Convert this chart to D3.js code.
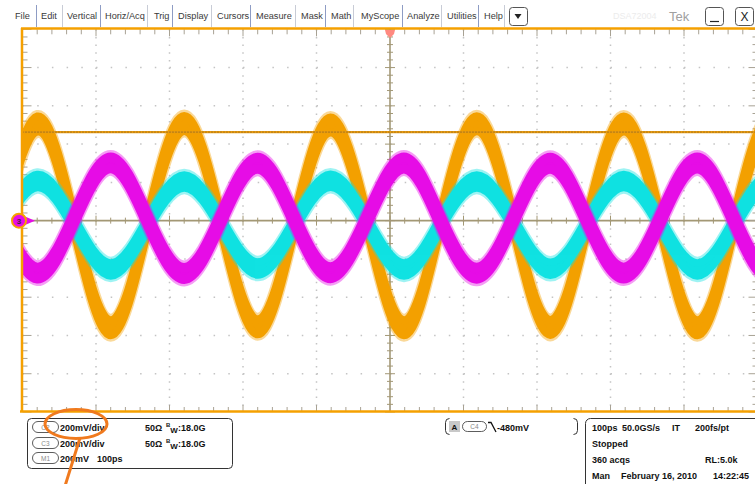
<!DOCTYPE html>
<html><head><meta charset="utf-8">
<script src="https://cdn.jsdelivr.net/npm/d3@7"></script>
<style>
html,body{margin:0;padding:0;background:#fff;}
svg{display:block;font-family:"Liberation Sans",Arial,Helvetica,sans-serif;}
</style></head><body>
<svg id="c" width="755" height="484"></svg>
<script>
// ---------- data ----------
const menuItems = ["File","Edit","Vertical","Horiz/Acq","Trig","Display","Cursors","Measure","Mask","Math","MyScope","Analyze","Utilities","Help"];
// sample instants (ps) at peaks / crossings / troughs
const timePs = [-580,-530,-480,-430,-380,-330,-280,-230,-180,-130,-81,-31,19,68,118,168,218,268,318,368,418,468,518,568,618];
// M1 (orange), mV
const m1Mv  = [-555,-15,505,-10,-560,-15,508,-10,-555,-15,500,-10,-560,-15,506,-10,-558,-15,505,-10,-560,-15,505,-10,-555];
// C2 (cyan), mV
const c2Mv  = [-250,-20,207,-15,-255,-20,205,-15,-250,-20,208,-15,-255,-20,204,-15,-252,-20,207,-15,-255,-20,206,-15,-250];
// C3 (magenta), mV
const c3Mv  = [300,5,-274,10,302,5,-276,10,300,5,-272,10,301,5,-275,10,300,5,-274,10,301,5,-273,10,300];
const refLevelMv = 463;               // orange dotted level line
const timeDivTicks = [-400,-300,-200,-100,100,200,300,400];
const voltDivTicks = [-800,-600,-400,-200,200,400,600,800];
const infoRows = [
  {pill:"C2", a:"200mV/div", b:"50Ω", bw:":18.0G"},
  {pill:"C3", a:"200mV/div", b:"50Ω", bw:":18.0G"},
  {pill:"M1", a:"200mV", c:"100ps"}
];
const trigText = ["A","C4","-480mV"];
const acqLines = [
  [["100ps",592],["50.0GS/s",622],["IT",672],["200fs/pt",695]],
  [["Stopped",592]],
  [["360 acqs",592],["RL:5.0k",705]],
  [["Man",592],["February 16, 2010",621],["14:22:45",713]]
];

// ---------- setup ----------
const svg = d3.select("#c");
svg.append("rect").attr("width",755).attr("height",484).attr("fill","#fff");
const x = d3.scaleLinear().domain([-500,500]).range([22.5,757.5]);
const y = d3.scaleLinear().domain([-1000,1000]).range([412,29.3]);
const gridCol = "#c4c4c4", axisCol = "#a39877", tickCol = "#a8a294";
const ORANGE = "#f3a000", CYAN = "#10e2e2", MAGENTA = "#e60ce6";

// ---------- menu bar ----------
const menuX = [15,41,67,105,154,178,217,256,301,331,361,407,447,484];
const sepX = [36,62,100,147,172,211,250,295,325,353,402,441,478,504];
const mg = svg.append("g");
mg.selectAll("text.m").data(menuItems).join("text")
  .attr("x",(d,i)=>menuX[i]).attr("y",19).attr("font-size",9.2).attr("fill","#3a3a3a").text(d=>d);
mg.selectAll("line.s").data(sepX).join("line")
  .attr("x1",d=>d+0.5).attr("x2",d=>d+0.5).attr("y1",5).attr("y2",27)
  .attr("stroke",(d,i)=>i%2? "#c8ccd6":"#8e9cc4").attr("stroke-width",1);
function btn(x0){
  mg.append("rect").attr("x",x0+0.5).attr("y",7.5).attr("width",18).attr("height",18).attr("rx",3)
    .attr("fill","#fff").attr("stroke","#555").attr("stroke-width",1);
}
btn(509); mg.append("path").attr("d","M514.5,14 L521.5,14 L518,19 Z").attr("fill","#222");
btn(705); mg.append("line").attr("x1",710).attr("x2",719).attr("y1",21.5).attr("y2",21.5).attr("stroke","#222").attr("stroke-width",1.2);
btn(735); mg.append("text").attr("x",744.5).attr("y",21).attr("text-anchor","middle").attr("font-size",12).attr("fill","#222").text("X");
mg.append("text").attr("x",613).attr("y",19).attr("font-size",9).attr("fill","#ececec").text("DSA72004");
mg.append("text").attr("x",669).attr("y",21).attr("font-size",13).attr("fill","#a0a0a0").text("Tek");

// ---------- graticule ----------
const g = svg.append("g");
g.selectAll("line.gv").data(timeDivTicks).join("line")
  .attr("x1",d=>x(d)).attr("x2",d=>x(d)).attr("y1",y(1000)).attr("y2",y(-1000))
  .attr("stroke",gridCol).attr("stroke-width",1.5).attr("stroke-dasharray","1.5,6.15");
g.selectAll("line.gh").data(voltDivTicks).join("line")
  .attr("x1",x(-500)).attr("x2",x(500)).attr("y1",d=>y(d)).attr("y2",d=>y(d))
  .attr("stroke",gridCol).attr("stroke-width",1.5).attr("stroke-dasharray","1.5,13.2");
const tMinor = d3.range(-500,501,20), vMinor = d3.range(-1000,1001,40);
g.append("line").attr("x1",x(-500)).attr("x2",x(500)).attr("y1",y(0)).attr("y2",y(0)).attr("stroke",axisCol).attr("stroke-width",1.6);
g.append("line").attr("x1",x(0)).attr("x2",x(0)).attr("y1",y(1000)).attr("y2",y(-1000)).attr("stroke",axisCol).attr("stroke-width",1.6);
g.selectAll("line.ct").data(tMinor).join("line")
  .attr("x1",d=>x(d)).attr("x2",d=>x(d))
  .attr("y1",d=>y(0)-(d%100===0?5:3)).attr("y2",d=>y(0)+(d%100===0?5:3)).attr("stroke",axisCol).attr("stroke-width",1);
g.selectAll("line.cv").data(vMinor).join("line")
  .attr("y1",d=>y(d)).attr("y2",d=>y(d))
  .attr("x1",d=>x(0)-(d%200===0?5:3)).attr("x2",d=>x(0)+(d%200===0?5:3)).attr("stroke",axisCol).attr("stroke-width",1);
g.selectAll("line.et").data(tMinor).join("line")
  .attr("x1",d=>x(d)).attr("x2",d=>x(d)).attr("y1",y(1000)).attr("y2",d=>y(1000)+(d%100===0?7:5))
  .attr("stroke",tickCol).attr("stroke-width",1);
g.selectAll("line.eb").data(tMinor).join("line")
  .attr("x1",d=>x(d)).attr("x2",d=>x(d)).attr("y1",y(-1000)).attr("y2",d=>y(-1000)-(d%100===0?7:5))
  .attr("stroke",tickCol).attr("stroke-width",1);
g.selectAll("line.el").data(vMinor).join("line")
  .attr("y1",d=>y(d)).attr("y2",d=>y(d)).attr("x1",x(-500)).attr("x2",d=>x(-500)+(d%200===0?9:5))
  .attr("stroke",tickCol).attr("stroke-width",1);
g.selectAll("line.er").data(vMinor).join("line")
  .attr("y1",d=>y(d)).attr("y2",d=>y(d)).attr("x1",x(500)).attr("x2",d=>x(500)-(d%200===0?9:5))
  .attr("stroke",tickCol).attr("stroke-width",1);

// ---------- waveforms ----------
svg.append("clipPath").attr("id","pc").append("rect")
  .attr("x",x(-500)).attr("y",y(1000)).attr("width",x(500)-x(-500)).attr("height",y(-1000)-y(1000));
const wg = svg.append("g").attr("clip-path","url(#pc)");
function band(vals,col,d,w){
  const pts = timePs.map((t,i)=>({t:t,v:vals[i]}));
  const mk = off => d3.area().x(p=>x(p.t)).y0(p=>y(p.v)+off).y1(p=>y(p.v)-off).curve(d3.curveNatural)(pts);
  wg.append("path").attr("d",mk(d+1.5)).attr("fill",col).attr("stroke",col).attr("stroke-width",w+2)
    .attr("stroke-linejoin","round").attr("opacity",0.4);
  wg.append("path").attr("d",mk(d)).attr("fill",col).attr("stroke",col).attr("stroke-width",w)
    .attr("stroke-linejoin","round");
}
band(m1Mv,ORANGE,7.5,8);
band(c2Mv,CYAN,6.5,7.5);
band(c3Mv,MAGENTA,5.7,9.5);

// orange reference level (dotted)
svg.append("line").attr("x1",x(-500)).attr("x2",755).attr("y1",y(refLevelMv)).attr("y2",y(refLevelMv))
  .attr("stroke","#e79a10").attr("stroke-width",2.2);
svg.append("line").attr("x1",x(-500)).attr("x2",755).attr("y1",y(refLevelMv)).attr("y2",y(refLevelMv))
  .attr("stroke","#6a5020").attr("stroke-width",1.2).attr("stroke-dasharray","1,2").attr("opacity",0.7);

// ---------- frame ----------
svg.append("line").attr("x1",21).attr("x2",755).attr("y1",28.5).attr("y2",28.5).attr("stroke","#f5a000").attr("stroke-width",2.5);
svg.append("line").attr("x1",20).attr("x2",755).attr("y1",411.5).attr("y2",411.5).attr("stroke","#f5a000").attr("stroke-width",2.5);
svg.append("line").attr("x1",22).attr("x2",22).attr("y1",28).attr("y2",412).attr("stroke","#f5a000").attr("stroke-width",2.5);
svg.append("path").attr("d",`M${x(0)-5},30 L${x(0)+5},30 L${x(0)+4},34 L${x(0)},38 L${x(0)-4},34 Z`).attr("fill","#ff8a80");
svg.append("path").attr("d",`M25,216.5 L35,${y(0)} L25,225`).attr("fill",MAGENTA);
svg.append("circle").attr("cx",19).attr("cy",y(0)).attr("r",7).attr("fill",MAGENTA).attr("stroke","#f5a000").attr("stroke-width",2);
svg.append("text").attr("x",19).attr("y",y(0)+3).attr("text-anchor","middle").attr("font-size",8).attr("font-weight","bold").attr("fill","#4a2040").text("3");

// ---------- bottom info ----------
const ig = svg.append("g").attr("font-weight","bold").attr("font-size",9).attr("fill","#111");
ig.append("rect").attr("x",27.5).attr("y",418.5).attr("width",205).attr("height",50).attr("rx",4).attr("fill","none").attr("stroke","#333").attr("stroke-width",1);
const rowY = [427,443,458];
infoRows.forEach((r,i)=>{
  const cy = rowY[i];
  ig.append("rect").attr("x",32.5).attr("y",cy-5.5).attr("width",26).attr("height",11).attr("rx",5.5).attr("fill","#fff").attr("stroke","#333").attr("stroke-width",0.8);
  ig.append("text").attr("x",45.5).attr("y",cy+2.5).attr("text-anchor","middle").attr("font-size",6.5).attr("font-weight","normal").attr("fill","#8a8a8a").text(r.pill);
  ig.append("text").attr("x",60).attr("y",cy+3.5).text(r.a);
  if(r.b){
    ig.append("text").attr("x",145).attr("y",cy+3.5).text(r.b);
    const t = ig.append("text").attr("x",166).attr("y",cy+3.5);
    t.append("tspan").attr("font-size",6).attr("dy",-3.5).text("B");
    t.append("tspan").attr("font-size",8).attr("dy",6).text("W");
    t.append("tspan").attr("font-size",9).attr("dy",-2.5).text(r.bw);
  }
  if(r.c) ig.append("text").attr("x",97).attr("y",cy+3.5).text(r.c);
});
ig.append("path").attr("d","M449.5,418.5 Q445.5,418.5 445.5,422.5 L445.5,430.5 Q445.5,434.5 449.5,434.5").attr("fill","none").attr("stroke","#333");
ig.append("path").attr("d","M573.5,418.5 Q577.5,418.5 577.5,422.5 L577.5,430.5 Q577.5,434.5 573.5,434.5").attr("fill","none").attr("stroke","#333");
ig.append("rect").attr("x",449).attr("y",421).attr("width",11).attr("height",11).attr("fill","#c8c8c8");
ig.append("text").attr("x",454.5).attr("y",430).attr("text-anchor","middle").attr("font-size",8).text(trigText[0]);
ig.append("rect").attr("x",462.5).attr("y",421.5).attr("width",24).attr("height",10).attr("rx",5).attr("fill","#fff").attr("stroke","#333").attr("stroke-width",0.8);
ig.append("text").attr("x",474.5).attr("y",429).attr("text-anchor","middle").attr("font-size",6.5).attr("font-weight","normal").attr("fill","#8a8a8a").text(trigText[1]);
ig.append("path").attr("d","M488,422.5 L491,422.5 L496,432").attr("fill","none").attr("stroke","#111").attr("stroke-width",1.3);
ig.append("text").attr("x",497).attr("y",430.5).text(trigText[2]);
ig.append("rect").attr("x",585.5).attr("y",418.5).attr("width",180).attr("height",80).attr("rx",5).attr("fill","none").attr("stroke","#333").attr("stroke-width",1);
acqLines.forEach((ln,i)=>{
  ln.forEach(([t,xx])=>ig.append("text").attr("x",xx).attr("y",430.5+i*16).text(t));
});

// ---------- annotation ----------
svg.append("ellipse").attr("cx",76).attr("cy",424).attr("rx",31).attr("ry",14.5).attr("fill","none").attr("stroke","#f07a1e").attr("stroke-width",3);
svg.append("line").attr("x1",80).attr("y1",438).attr("x2",65).attr("y2",486).attr("stroke","#f07a1e").attr("stroke-width",3);
</script>
</body></html>
